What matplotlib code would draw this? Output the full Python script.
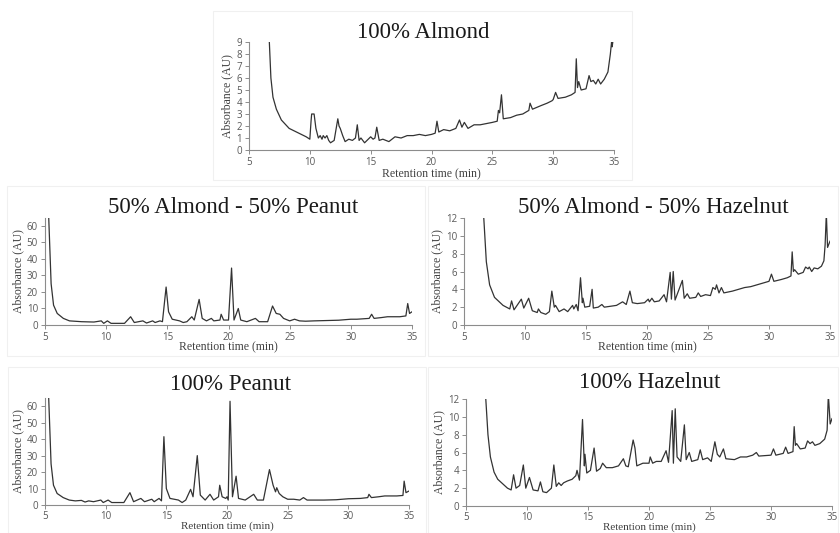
import matplotlib
matplotlib.use("Agg")
import matplotlib.pyplot as plt
from matplotlib.patches import Rectangle

# ---------------------------------------------------------------------------
# Chromatogram traces (time in min, absorbance in AU)
# ---------------------------------------------------------------------------
almond_t = [6.65, 6.8, 6.97, 7.25, 7.66, 8.3, 8.9, 9.7, 10.0, 10.1, 10.15, 10.35, 10.5, 10.7,
            10.85, 11.0, 11.1, 11.25, 11.4, 11.55, 11.7, 12.0, 12.3, 12.4, 12.5, 12.7, 12.9,
            13.2, 13.5, 13.75, 13.9, 14.05, 14.2, 14.5, 15.0, 15.2, 15.35, 15.5, 15.7, 16.0,
            16.5, 17.0, 17.5, 18.0, 18.5, 19.0, 19.5, 20.0, 20.3, 20.45, 20.6, 21.0, 21.5,
            22.0, 22.3, 22.5, 22.7, 23.0, 23.5, 24.0, 24.5, 25.0, 25.4, 25.5, 25.6, 25.75,
            25.9, 26.5, 27.0, 27.5, 28.0, 28.1, 28.3, 29.0, 29.5, 29.9, 30.0, 30.2, 30.4,
            31.0, 31.5, 31.8, 31.9, 32.0, 32.1, 32.3, 32.7, 32.95, 33.1, 33.3, 33.5, 33.7,
            33.9, 34.2, 34.5, 34.7, 34.8, 34.85, 34.9]
almond_y = [9.5, 6.0, 4.4, 3.4, 2.5, 1.8, 1.5, 1.1, 0.9, 2.4, 3.0, 3.0, 1.8, 1.0,
            1.2, 0.9, 1.2, 1.0, 1.2, 0.8, 0.6, 0.8, 2.6, 2.0, 1.8, 1.2, 0.7,
            0.9, 0.8, 1.0, 2.1, 0.8, 1.0, 0.6, 1.1, 0.9, 1.0, 1.9, 0.8, 0.9,
            0.7, 1.1, 1.0, 1.2, 1.2, 1.3, 1.2, 1.3, 1.4, 2.4, 1.5, 1.7, 1.6,
            1.8, 2.5, 1.9, 2.3, 1.8, 2.1, 2.1, 2.2, 2.3, 2.4, 3.3, 3.1, 4.6,
            2.6, 2.7, 2.9, 3.0, 3.3, 3.9, 3.4, 3.7, 3.9, 4.1, 4.2, 4.8, 4.3,
            4.4, 4.6, 4.8, 7.6, 5.2, 5.7, 5.0, 5.1, 6.2, 5.7, 5.8, 5.5, 5.9,
            5.5, 5.9, 6.5, 8.0, 9.0, 8.6, 9.0]

mix_peanut_t = [5.3, 5.5, 5.7, 6.0, 6.5, 7.0, 8.0, 9.0, 9.6, 9.8, 10.1, 10.4, 11.0, 11.5,
                12.0, 12.3, 13.0, 13.3, 13.8, 14.0, 14.4, 14.6, 14.9, 15.1, 15.4, 16.0,
                16.3, 16.6, 17.0, 17.2, 17.6, 17.85, 18.2, 18.6, 18.8, 19.3, 19.4, 19.6,
                20.0, 20.25, 20.45, 20.8, 21.0, 21.5, 22.2, 22.5, 23.2, 23.6, 23.9, 24.2,
                24.5, 25.0, 25.4, 25.8, 26.3, 27.0, 28.0, 29.0, 30.0, 30.5, 31.5, 31.7,
                31.9, 32.5, 33.0, 34.0, 34.5, 34.65, 34.8, 35.0]
mix_peanut_y = [66, 25, 12, 7, 4, 2.5, 2, 1.8, 2.5, 1, 2.5, 1, 1, 1,
                5, 1.5, 2.5, 1.2, 2.5, 1.5, 2.5, 2, 23, 8, 3.5, 2.5,
                1.5, 2, 5, 3, 15.5, 4, 2.5, 4, 2.5, 3, 6.5, 3,
                3, 34.5, 3, 10, 3, 2, 4, 2, 2, 11.5, 7, 6.5,
                4, 2.5, 3.5, 2.5, 2.3, 2.5, 2.7, 2.9, 3.5, 3.5, 4, 6.5,
                4, 4.5, 5, 5, 5.5, 13, 7, 8]

mix_hazel_t = [6.6, 6.83, 7.1, 7.5, 8.2, 8.75, 8.9, 9.1, 9.7, 9.9, 10.3, 10.6, 11.0, 11.1,
               11.3, 11.7, 12.0, 12.2, 12.4, 12.5, 12.8, 13.2, 13.5, 13.9, 14.0, 14.2,
               14.35, 14.55, 14.7, 14.75, 14.9, 15.3, 15.5, 15.6, 16.0, 16.3, 16.5, 17.0,
               17.5, 18.0, 18.3, 18.6, 18.8, 19.2, 19.8, 20.1, 20.2, 20.4, 20.6, 21.0,
               21.4, 21.6, 21.9, 22.0, 22.15, 22.3, 22.9, 23.05, 23.3, 23.5, 24.0, 24.2,
               24.4, 24.8, 25.2, 25.4, 25.6, 25.7, 25.9, 26.1, 26.3, 27.0, 28.0, 28.5,
               29.0, 29.5, 30.0, 30.2, 30.4, 31.0, 31.5, 31.8, 31.9, 32.0, 32.1, 32.4,
               32.8, 33.0, 33.2, 33.3, 33.5, 33.7, 34.0, 34.3, 34.5, 34.6, 34.7, 34.8, 35.0]
mix_hazel_y = [12.5, 7.1, 4.5, 3.1, 2.2, 1.8, 2.7, 1.7, 2.9, 1.9, 3.0, 1.6, 1.4, 1.8,
               1.4, 1.2, 1.5, 3.8, 2.0, 2.2, 1.5, 1.8, 1.5, 2.2, 1.8, 2.3,
               1.6, 5.3, 2.5, 3.0, 2.0, 2.1, 4.0, 1.9, 2.0, 2.3, 2.0, 2.1,
               2.2, 2.6, 2.3, 3.8, 2.5, 2.4, 2.5, 2.9, 2.6, 3.0, 2.6, 2.7,
               3.4, 2.6, 5.9, 2.9, 6.0, 2.8, 5.0, 3.0, 3.5, 3.0, 3.1, 3.6,
               3.2, 3.4, 3.3, 4.2, 4.0, 4.5, 3.6, 4.2, 3.6, 3.8, 4.2, 4.3,
               4.5, 4.7, 4.9, 5.7, 4.9, 5.1, 5.3, 5.5, 8.2, 6.0, 6.2, 5.7,
               5.9, 6.5, 6.3, 6.5, 6.0, 6.4, 6.3, 6.6, 7.2, 9.0, 12.5, 8.7, 9.4]

peanut_t = [5.3, 5.5, 5.7, 6.0, 6.5, 7.0, 7.5, 8.0, 8.3, 8.6, 9.0, 9.6, 9.8, 10.2, 10.5,
            11.0, 11.5, 12.0, 12.3, 12.9, 13.2, 13.8, 14.0, 14.4, 14.6, 14.8, 15.0, 15.3,
            16.0, 16.3, 16.6, 17.0, 17.2, 17.55, 17.8, 18.2, 18.6, 18.9, 19.3, 19.4, 19.6,
            19.9, 20.0, 20.1, 20.25, 20.45, 20.75, 20.95, 21.5, 22.2, 22.5, 23.0, 23.5,
            23.8, 24.0, 24.1, 24.3, 24.6, 25.0, 25.5, 26.0, 26.3, 26.6, 27.0, 28.0, 29.0,
            30.0, 31.0, 31.6, 31.7, 31.9, 32.5, 33.0, 34.0, 34.5, 34.6, 34.75, 35.0]
peanut_y = [66, 25, 12, 7, 4.5, 3, 2.5, 2.8, 1.8, 2.5, 2, 3, 1.5, 3, 1.5,
            1.5, 1.5, 7.5, 2, 4, 2, 3.5, 2, 4, 2.5, 41.5, 10, 4,
            3, 1.5, 3, 9.5, 5, 30, 6, 3, 6.5, 3, 5, 12, 5,
            4, 5, 3, 63, 5, 17.5, 4, 3, 6.5, 3, 3, 21.5,
            12, 8, 10.5, 7, 5, 3.5, 3.5, 3, 4.5, 3, 3, 3, 3.2,
            3.8, 4, 4.5, 6.5, 4.5, 5, 5.5, 5.5, 5.8, 14.5, 7.5, 8.5]

hazel_t = [6.6, 6.8, 7.0, 7.3, 7.6, 8.0, 8.4, 8.7, 8.9, 9.1, 9.4, 9.7, 9.9, 10.2, 10.5,
           10.9, 11.1, 11.3, 11.6, 12.0, 12.2, 12.4, 12.6, 12.8, 13.0, 13.3, 13.7, 14.0,
           14.1, 14.3, 14.55, 14.7, 14.75, 14.9, 15.2, 15.5, 15.7, 16.0, 16.2, 16.5, 17.0,
           17.5, 17.9, 18.1, 18.3, 18.7, 18.85, 19.0, 19.5, 20.0, 20.1, 20.3, 20.6, 21.0,
           21.4, 21.6, 21.9, 22.0, 22.15, 22.3, 22.6, 22.9, 23.05, 23.3, 23.5, 24.0, 24.2,
           24.4, 24.8, 25.1, 25.4, 25.6, 25.8, 26.1, 26.3, 27.0, 27.5, 28.0, 28.5, 28.8,
           29.0, 30.0, 30.2, 30.4, 31.0, 31.2, 31.4, 31.8, 31.9, 32.0, 32.1, 32.4, 32.8,
           33.0, 33.2, 33.4, 33.6, 34.0, 34.4, 34.6, 34.7, 34.85, 35.0]
hazel_y = [12.5, 8.0, 5.5, 3.8, 3.0, 2.5, 2.0, 1.8, 3.5, 2.0, 2.3, 4.6, 2.0, 3.2, 1.8,
           1.7, 2.7, 1.6, 1.5, 2.0, 4.6, 2.2, 2.6, 2.3, 2.6, 2.8, 3.0, 3.4,
           4.0, 2.9, 9.7, 4.5, 5.8, 3.7, 4.0, 6.5, 3.9, 4.2, 4.8, 4.3, 4.3,
           4.5, 5.3, 4.5, 4.4, 7.4, 6.5, 4.5, 4.8, 4.8, 5.5, 4.8, 5.0, 5.0,
           6.2, 4.9, 10.7, 4.8, 10.9, 5.5, 5.0, 9.1, 5.2, 6.0, 5.0, 5.2, 6.3,
           5.2, 5.4, 5.0, 7.2, 5.8, 5.5, 6.4, 5.3, 5.2, 5.5, 5.5, 5.7, 6.0,
           5.6, 5.7, 6.4, 5.7, 5.9, 6.6, 5.9, 6.1, 8.9, 6.8, 7.0, 6.4, 6.5,
           7.3, 7.0, 7.2, 6.8, 7.0, 7.5, 8.5, 12.5, 9.2, 9.8]

titles = ["100% Almond", "50% Almond - 50% Peanut", "50% Almond - 50% Hazelnut",
          "100% Peanut", "100% Hazelnut"]
x_ticks = [5, 10, 15, 20, 25, 30, 35]

W, H = 840, 533
fig = plt.figure(figsize=(W / 100, H / 100), dpi=100)
fig.patch.set_facecolor("white")

def px(l, t, r, b):
    # pixel box -> figure fraction rect
    return [l / W, 1 - b / H, (r - l) / W, (b - t) / H]

# panel frames (light grey chart-area borders)
frames = [(213, 11, 632, 180), (7, 186, 425, 356), (428, 186, 838, 356),
          (8, 367, 426, 533), (428, 367, 838, 533)]
for l, t, r, b in frames:
    fig.patches.append(Rectangle((l / W, 1 - b / H), (r - l) / W, (b - t) / H,
                                 transform=fig.transFigure, fill=False,
                                 edgecolor="#f0f0f0", linewidth=0.8))

# rect, x, y, y-top, y ticks, title centre (px), bottom row?
panels = [
    (px(249, 42, 614, 150), almond_t, almond_y, 9, list(range(0, 10)), (423, 33), False),
    (px(45, 217.7, 412, 325), mix_peanut_t, mix_peanut_y, 65, [0, 10, 20, 30, 40, 50, 60], (233, 207), False),
    (px(464, 218, 830, 325), mix_hazel_t, mix_hazel_y, 12, [0, 2, 4, 6, 8, 10, 12], (653, 207), False),
    (px(45, 398, 409, 505), peanut_t, peanut_y, 65, [0, 10, 20, 30, 40, 50, 60], (230, 385), True),
    (px(466, 399, 832, 506), hazel_t, hazel_y, 12, [0, 2, 4, 6, 8, 10, 12], (650, 383), True),
]

for (rect, t, y, ytop, yticks, tpos, bottom_row), title in zip(panels, titles):
    ax = fig.add_axes(rect)
    ax.plot(t, y, color="#333333", linewidth=0.9)
    ax.set_xlim(5, 35)
    ax.set_ylim(0, ytop)
    ax.set_xticks(x_ticks)
    ax.set_yticks(yticks)
    for s in ["top", "right"]:
        ax.spines[s].set_visible(False)
    for s in ["left", "bottom"]:
        ax.spines[s].set_color("#8c8c8c")
        ax.spines[s].set_linewidth(0.8)
    ax.tick_params(axis="both", direction="out", length=3, width=0.7, color="#8c8c8c",
                   labelsize=7, labelcolor="#595959", pad=2)
    for lab in ax.get_xticklabels() + ax.get_yticklabels():
        lab.set_fontfamily("Open Sans")
    if bottom_row:
        ax.tick_params(axis="x", pad=1)
        ax.set_xlabel("Retention time (min)", fontfamily="Liberation Serif", fontsize=8,
                      color="#404040", labelpad=0)
    else:
        ax.set_xlabel("Retention time (min)", fontfamily="Liberation Serif", fontsize=8.5,
                      color="#404040", labelpad=-1 if ytop != 9 else 0)
    ax.set_ylabel("Absorbance (AU)", fontfamily="Liberation Serif", fontsize=8.5,
                  color="#404040", labelpad=2)
    fig.text(tpos[0] / W, 1 - tpos[1] / H, title, ha="center", va="center",
             fontfamily="Liberation Serif", fontsize=16.5, color="#1a1a1a")

fig.savefig("out.png", dpi=100)
